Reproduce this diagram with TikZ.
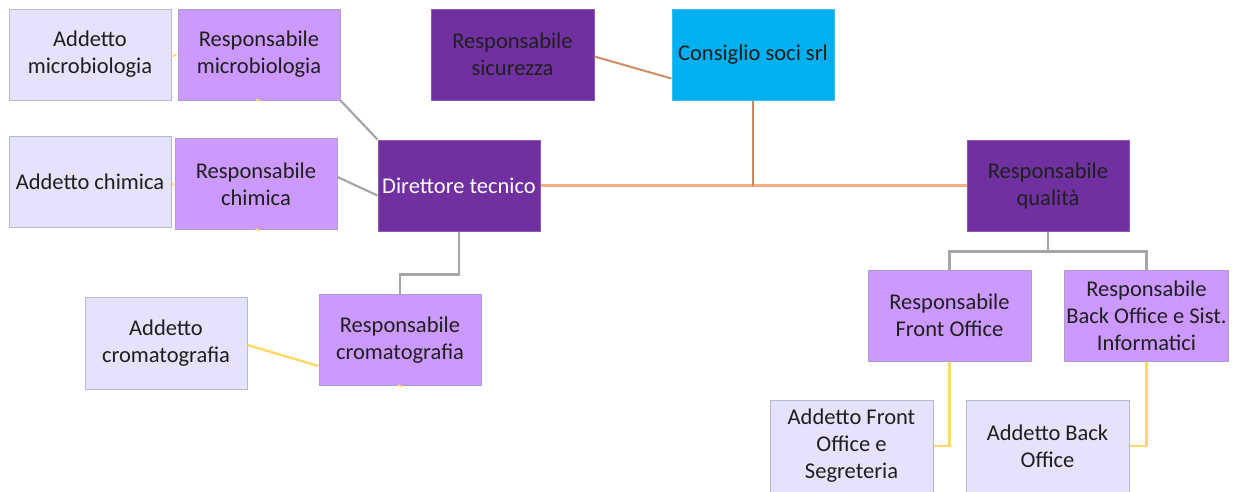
\documentclass[tikz,border=0pt]{standalone}
\usepackage{fontspec}
\setmainfont{Carlito}
\definecolor{addfill}{HTML}{E4E3FB}
\definecolor{addline}{HTML}{B9B8D2}
\definecolor{respfill}{HTML}{CC99FF}
\definecolor{respline}{HTML}{B29CC9}
\definecolor{darkp}{HTML}{7030A0}
\definecolor{cyanb}{HTML}{00B0F0}
\definecolor{orangel}{HTML}{F4B183}
\definecolor{brownl}{HTML}{C8875E}
\definecolor{greyl}{HTML}{A6A6A6}
\definecolor{yell}{HTML}{FFD966}
\tikzset{
  box/.style={draw, line width=1pt, minimum width=162pt, minimum height=91pt, align=center, inner sep=2pt, text=black!88,
    font=\fontsize{22.5}{27}\selectfont},
  addbox/.style={box, fill=addfill, draw=addline},
  respbox/.style={box, fill=respfill, draw=respline},
  darkbox/.style={box, fill=darkp, draw=darkp!80!white},
  cyanbox/.style={box, fill=cyanb, draw=cyanb!80!white},
  grey conn/.style={draw=greyl, line width=2.2pt},
  yellow conn/.style={draw=yell, line width=2.4pt},
  orange conn/.style={draw=orangel, line width=3.2pt},
  brown conn/.style={draw=brownl, line width=2.2pt},
}
\begin{document}
\begin{tikzpicture}[x=1pt,y=-1pt]
\useasboundingbox (0,0) rectangle (1235,491);
\clip (0,0) rectangle (1235,491);
\fill[white] (0,0) rectangle (1235,491);

\node[addbox]  (am)  at (90,54.5)    {Addetto\\microbiologia};
\node[respbox] (rm)  at (259,54.5)   {Responsabile\\microbiologia};
\node[addbox]  (ac)  at (90,181.5)   {Addetto chimica};
\node[respbox] (rc)  at (256,184)    {Responsabile\\chimica};
\node[darkbox, text=white] (dt) at (459,185.5) {Direttore tecnico};
\node[darkbox, minimum width=163pt] (rs) at (512.5,54.5) {Responsabile\\sicurezza};
\node[cyanbox] (cs)  at (753,54.5)   {Consiglio soci srl};
\node[darkbox] (rq)  at (1048,185.5) {Responsabile\\qualità};
\node[respbox, minimum width=163pt] (rfo) at (949.5,315.5) {Responsabile\\Front Office};
\node[respbox, minimum width=163pt] (rbo) at (1146.5,315.5) {Responsabile\\Back Office e Sist.\\Informatici};
\node[addbox, minimum width=163pt, minimum height=92pt] (afo) at (851.5,446) {Addetto Front\\Office e\\Segreteria};
\node[addbox, minimum width=163pt, minimum height=92pt] (abo) at (1047.5,446) {Addetto Back\\Office};
\node[addbox, minimum height=92pt] (acr) at (166,343) {Addetto\\cromatografia};
\node[respbox] (rcr) at (400,340)    {Responsabile\\cromatografia};

% connectors
\draw[orange conn] (dt.east) -- (rq.west);
\draw[brown conn] (cs.south) -- (cs.south |- dt.east);
\draw[draw=brownl!80!orangel, line width=2pt] ([yshift=-2pt]rs.east) -- ([yshift=-24pt]cs.west);
\draw[grey conn] (rm.south east) -- (dt.north west);
\draw[grey conn] ([yshift=7pt]rc.east) -- ([yshift=-10pt]dt.west);
\draw[grey conn] (dt.south) -- ++(0,43) -| (rcr.north);
\draw[yellow conn] ([yshift=-2pt]acr.east) -- ([yshift=-26pt]rcr.west);
\draw[grey conn] (rq.south) -- ++(0,20) -| (rfo.north);
\draw[grey conn] (rq.south) ++(0,20) -| (rbo.north);
\draw[yellow conn] (rfo.south) |- (afo.east);
\draw[yellow conn] (rbo.south) |- (abo.east);

% small visible stubs of hidden connectors
\draw[yellow conn, line width=1.6pt] ([xshift=1pt,yshift=-2pt]am.east) -- ([xshift=-1pt]rm.west);
\draw[yellow conn, line width=1.6pt] ([xshift=1pt,yshift=-1pt]ac.east) -- ([xshift=-1pt,yshift=-2pt]rc.west);
\draw[yellow conn, line width=1.6pt] ([xshift=-3pt,yshift=1pt]rm.south) -- ++(4,1.5);
\draw[yellow conn, line width=1.6pt] ([xshift=0pt,yshift=1pt]rc.south) -- ++(4,1.5);
\draw[yellow conn, line width=1.6pt] ([xshift=-2pt,yshift=1pt]rcr.south) -- ++(4,1.5);
\end{tikzpicture}
\end{document}
